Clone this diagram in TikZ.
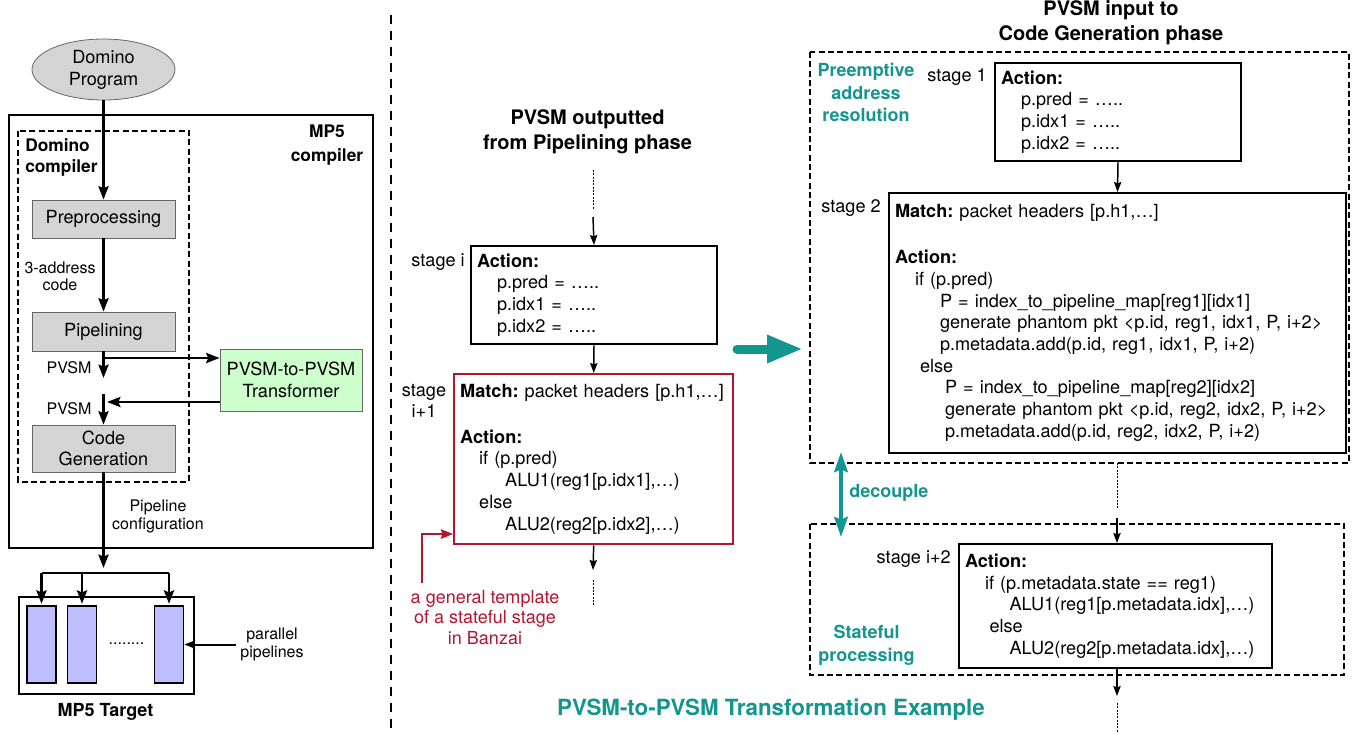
\documentclass[tikz,border=0pt]{standalone}
\usepackage{fontspec}
\setmainfont{TeX Gyre Heros}
\usetikzlibrary{arrows.meta,calc,shapes.geometric}

\definecolor{accent}{RGB}{19,150,143}
\definecolor{banzai}{RGB}{180,22,48}
\definecolor{boxgray}{RGB}{212,212,212}
\definecolor{xformgreen}{RGB}{204,255,204}
\definecolor{pipeblue}{RGB}{191,191,255}

\newcommand\fBody{\fontsize{13.6}{16.3}\selectfont\frenchspacing}
\newcommand\fSmall{\fontsize{12}{13}\selectfont}
\newcommand\fHead{\fontsize{15}{18.5}\selectfont\bfseries}
\newcommand\fTag{\fontsize{13.5}{17}\selectfont\bfseries}

\tikzset{
  heavyarrow/.style={line width=2.2pt, -{Stealth[length=10pt,width=7.5pt,inset=1.5pt]}},
  heavyline/.style={line width=2.2pt},
  lightarrow/.style={line width=1.1pt, -{Stealth[length=7.5pt,width=5.5pt,inset=1pt]}},
  dotline/.style={line width=0.5pt, dash pattern=on 1.5pt off 1pt},
  dashbox/.style={line width=1.1pt, dash pattern=on 4.5pt off 2.5pt},
  graybox/.style={draw=black!60, line width=0.6pt, fill=boxgray, minimum width=107.25pt,
    align=center, font=\fBody, inner sep=0pt},
  codebox/.style={draw, line width=1.5pt, align=left, anchor=north west, font=\fBody,
    inner ysep=0pt, inner xsep=4.5pt},
  stagelbl/.style={font=\fBody, inner sep=0pt, anchor=east},
  taglbl/.style={font=\fTag, text=accent, align=center, inner sep=0pt},
  pipe/.style={draw, line width=1.3pt, fill=pipeblue, minimum width=21.75pt, minimum height=57.75pt, inner sep=0pt},
}

\begin{document}
\frenchspacing
\begin{tikzpicture}[x=0.75pt,y=-0.75pt]
\fill[white] (0,0) rectangle (1369,733);
\useasboundingbox (0,0) rectangle (1369,733);

% ---------------- MP5 compiler flow ----------------
\node[ellipse, draw=black!60, line width=0.6pt, fill=boxgray, minimum width=107.25pt,
      minimum height=45.75pt, inner sep=0pt, align=center, font=\fBody] (prog) at (103.5,69.5) {Domino\\Program};

\node[draw, line width=1.5pt, minimum width=273pt, minimum height=324.75pt, inner sep=0pt,
      anchor=north west] (mpfive) at (8,114) {};
\node[font=\fontsize{13}{18}\selectfont\bfseries, align=center, inner sep=0pt] (mpfivelbl) at (327,145) {MP5\\compiler};

\draw[dashbox] (18,131) rectangle (189,482);
\node[font=\fontsize{13}{15.75}\selectfont\bfseries, align=left, inner sep=0pt, anchor=west] (domlbl) at (25,157.5) {Domino\\compiler};

\node[graybox, minimum height=28.5pt] (pre) at (103.5,219) {Preprocessing};
\node[graybox, minimum height=29.25pt] (pipel) at (103.5,331.5) {Pipelining};
\node[graybox, minimum height=35.25pt, font=\fontsize{13.6}{15.75}\selectfont] (cg) at (103.5,448.5) {Code\\Generation};
\node[draw=black!60, line width=0.6pt, fill=xformgreen, minimum width=106.5pt, minimum height=46.5pt,
      inner sep=0pt, align=center, font=\fontsize{13.6}{16.5}\selectfont] (xf) at (291,380) {PVSM-to-PVSM\\Transformer};

\node[font=\fSmall, align=center, inner sep=0pt] (tac) at (60,276) {3-address\\code};
\node[font=\fSmall, inner sep=0pt] (pv1) at (69,368) {PVSM};
\node[font=\fSmall, inner sep=0pt] (pv2) at (69,409) {PVSM};
\node[font=\fSmall, align=center, inner sep=0pt] (pcfg) at (158,516.5) {Pipeline\\configuration};

\coordinate (pout) at (103.5,378);
\coordinate (split) at (103.5,358);
\coordinate (back) at (107,402);
\coordinate (cgin) at (103.5,394);
\coordinate (cfgout) at (103.5,568);

\draw[heavyarrow] (prog.south) -- (pre.north);
\draw[heavyarrow] (pre.south) -- (pipel.north);
\draw[heavyarrow] (pipel.south) -- (pout);
\draw[heavyarrow] (split) -- (split -| xf.west);
\draw[heavyarrow] (back -| xf.west) -- (back);
\draw[heavyarrow] (cgin) -- (cg.north);
\draw[heavyarrow] (cg.south) -- (cfgout);

% ---------------- MP5 target ----------------
\node[draw, line width=1.5pt, minimum width=131.25pt, minimum height=72.75pt, inner sep=0pt,
      anchor=north west] (target) at (18,596) {};
\node[pipe] (pl1) at (41.5,644.5) {};
\node[pipe] (pl2) at (82,644.5) {};
\node[pipe] (pl3) at (169,644.5) {};
\node[font=\fSmall, inner sep=0pt] (gap) at (126.5,644) {........};
\node[font=\fontsize{13.5}{16}\selectfont\bfseries, inner sep=0pt] (tgtlbl) at (105.5,712) {MP5 Target};
\node[font=\fSmall, align=center, inner sep=0pt] (pp) at (272,644.5) {parallel\\pipelines};

\coordinate (fan) at (103.5,573);
\draw[heavyline] (fan -| pl1.north) -- (fan -| pl3.north);
\foreach \k in {1,2,3} {
  \draw[heavyarrow] (fan -| pl\k.north) -- ([yshift=1pt]pl\k.north);
}
\draw[line width=1.5pt, -{Stealth[length=8pt,width=6pt,inset=1pt]}] ([xshift=-3pt]pp.west) -- (pl3.east);

% ---------------- separator ----------------
\draw[line width=2pt, dash pattern=on 6.75pt off 5.25pt] (391,15) -- (391,733);

% ---------------- PVSM from pipelining ----------------
\node[font=\fHead, align=center, inner sep=0pt] (midttl) at (587.5,131.5) {PVSM outputted\\from Pipelining phase};

\node[codebox, text width=175.5pt, minimum height=73.5pt] (si) at (470,245)
  {\textbf{Action:}\\
   \hspace*{15pt}p.pred = …..\\
   \hspace*{15pt}p.idx1 = …..\\
   \hspace*{15pt}p.idx2 = …..};
\node[stagelbl] (silbl) at (465,262) {stage i};

\node[codebox, draw=banzai, line width=1.8pt, inner xsep=4.5pt, text width=200.25pt, minimum height=127.5pt] (sn) at (453,373)
  {\textbf{Match:} packet headers [p.h1,…]\\[18pt]
   \textbf{Action:}\\
   \hspace*{14.25pt}if (p.pred)\\
   \hspace*{33.75pt}ALU1(reg1[p.idx1],…)\\
   \hspace*{14.25pt}else\\
   \hspace*{33.75pt}ALU2(reg2[p.idx2],…)};
\node[font=\fBody, align=center, inner sep=0pt] (snlbl) at (424,401) {stage\\i+1};

\coordinate (m0) at (593,170);
\coordinate (m1) at (593,209);
\coordinate (m2) at (593,217);
\coordinate (m3) at (593,570);
\coordinate (m4) at (593,580);
\coordinate (m5) at (593,605);
\draw[dotline] (m0) -- (m1);
\draw[lightarrow] (m2) -- (si.north);
\draw[lightarrow] (si.south) -- (sn.north);
\draw[lightarrow] (sn.south) -- (m3);
\draw[dotline] (m4) -- (m5);

\node[font=\fontsize{13.5}{15.5}\selectfont, text=banzai, align=center, inner sep=0pt] (tmpl) at (485,617.5)
  {a general template\\of a stateful stage\\in Banzai};
\coordinate (rb) at (422,583);
\coordinate (rk) at (0,534);
\draw[banzai, line width=1.5pt, -{Stealth[length=9pt,width=7pt,inset=1pt]}] (rb) |- (rk -| sn.west);

% ---------------- transformation arrow ----------------
\coordinate (ta) at (737,349);
\coordinate (tb) at (803,349);
\draw[accent, line width=6.75pt, line cap=round, -{Triangle[length=27pt,width=19.5pt]}] (ta) -- (tb);

% ---------------- PVSM into code generation ----------------
\node[font=\fHead, align=center, inner sep=0pt] (rttl) at (1111,23) {PVSM input to\\Code Generation phase};

\draw[dashbox] (810,52) rectangle (1349,463);
\node[taglbl] (prelbl) at (866,92.5) {Preemptive\\address\\resolution};

\node[codebox, text width=175.5pt, minimum height=73.5pt] (sa) at (994,62)
  {\textbf{Action:}\\
   \hspace*{15pt}p.pred = …..\\
   \hspace*{15pt}p.idx1 = …..\\
   \hspace*{15pt}p.idx2 = …..};
\node[stagelbl] (salbl) at (987,77) {stage 1};

\node[codebox, text width=333.75pt, minimum height=195pt] (sb) at (888,192)
  {\textbf{Match:} packet headers [p.h1,…]\\[18pt]
   \textbf{Action:}\\
   \hspace*{15pt}if (p.pred)\\
   \hspace*{33.75pt}P = index\_to\_pipeline\_map[reg1][idx1]\\
   \hspace*{33.75pt}generate phantom pkt <p.id, reg1, idx1, P, i+2>\\
   \hspace*{33.75pt}p.metadata.add(p.id, reg1, idx1, P, i+2)\\
   \hspace*{18.75pt}else\\
   \hspace*{37.5pt}P = index\_to\_pipeline\_map[reg2][idx2]\\
   \hspace*{37.5pt}generate phantom pkt <p.id, reg2, idx2, P, i+2>\\
   \hspace*{37.5pt}p.metadata.add(p.id, reg2, idx2, P, i+2)};
\node[stagelbl] (sblbl) at (881,208) {stage 2};

\draw[lightarrow] (sa.south) -- (sb.north);

\draw[dashbox] (810,524) rectangle (1344,675);
\node[taglbl] (sflbl) at (866.5,645) {Stateful\\processing};

\node[codebox, text width=225.75pt, minimum height=93pt] (sc) at (958,543)
  {\textbf{Action:}\\
   \hspace*{15pt}if (p.metadata.state == reg1)\\
   \hspace*{33.4pt}ALU1(reg1[p.metadata.idx],…)\\
   \hspace*{18.4pt}else\\
   \hspace*{33.4pt}ALU2(reg2[p.metadata.idx],…)};
\node[stagelbl] (sclbl) at (951,559) {stage i+2};

\coordinate (r0) at (1117,463);
\coordinate (r1) at (1117,509);
\coordinate (r2) at (1117,518);
\coordinate (r3) at (1117,696);
\coordinate (r4) at (1117,703);
\coordinate (r5) at (1117,733);
\draw[dotline] (r0) -- (r1);
\draw[lightarrow] (r2) -- (r2 |- sc.north);
\draw[lightarrow] (r3 |- sc.south) -- (r3);
\draw[dotline] (r4) -- (r5);

\coordinate (dc0) at (841,452);
\coordinate (dc1) at (841,537);
\draw[accent, line width=3pt, {Stealth[length=15pt,width=10pt,inset=2pt]}-{Stealth[length=15pt,width=10pt,inset=2pt]}] (dc0) -- (dc1);
\node[taglbl, anchor=west] (dclbl) at (849,493) {decouple};

\node[font=\fontsize{16.75}{20}\selectfont\bfseries, text=accent, inner sep=0pt] (exttl) at (771,710)
  {PVSM-to-PVSM Transformation Example};

\end{tikzpicture}
\end{document}
